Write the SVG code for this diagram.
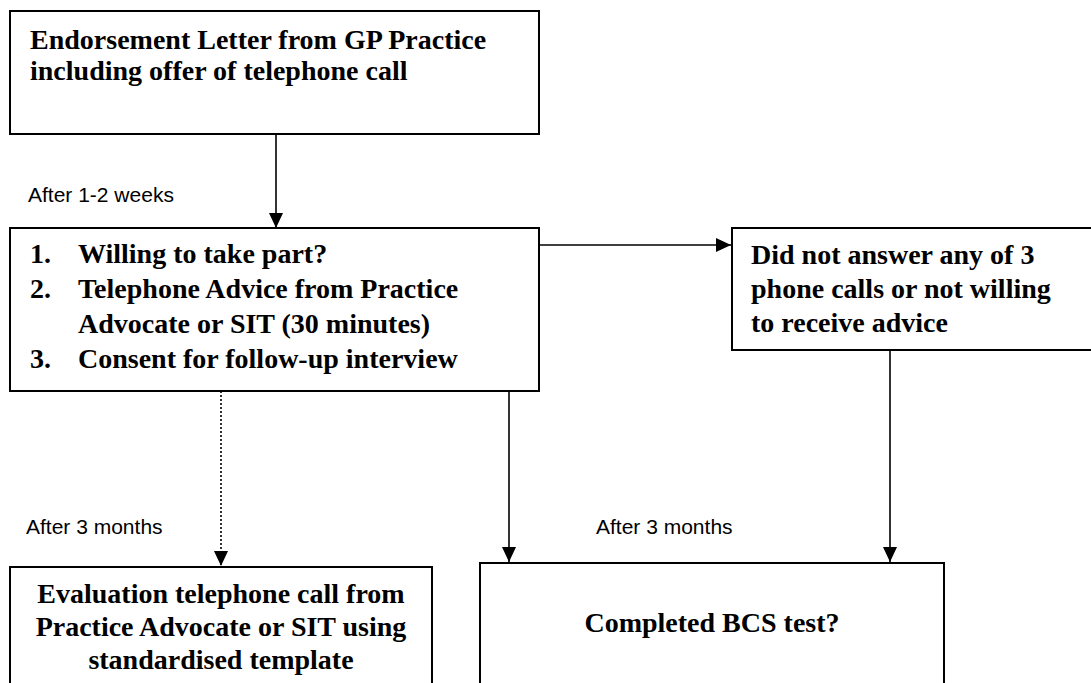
<svg xmlns="http://www.w3.org/2000/svg" width="1091" height="683" viewBox="0 0 1091 683">
<defs>
<style>
.box{fill:#fff;stroke:#000;stroke-width:2}
.t{font-family:"Liberation Serif","Times New Roman",serif;font-weight:bold;font-size:28px;fill:#000}
.lbl{font-family:"Liberation Sans",Arial,sans-serif;font-size:21px;fill:#000}
.c{fill:none;stroke:#000;stroke-width:1.6}
.dot{fill:none;stroke:#000;stroke-width:1.6;stroke-dasharray:2,2}
</style>
<marker id="ah" markerUnits="userSpaceOnUse" markerWidth="15" markerHeight="14" refX="15" refY="7" orient="auto">
<path d="M0,0 L15,7 L0,14 z" fill="#000"/>
</marker>
</defs>
<rect width="1091" height="683" fill="#fff"/>

<g id="connectors">
<line class="c" x1="276" y1="134" x2="276" y2="228" marker-end="url(#ah)"/>
<line class="c" x1="540" y1="245" x2="731" y2="245" marker-end="url(#ah)"/>
<line class="dot" x1="221" y1="391" x2="221" y2="566" marker-end="url(#ah)"/>
<line class="c" x1="509" y1="391" x2="509" y2="562" marker-end="url(#ah)"/>
<line class="c" x1="890" y1="350" x2="890" y2="562" marker-end="url(#ah)"/>
</g>

<g id="label-weeks"><text class="lbl" x="28" y="202">After 1-2 weeks</text></g>
<g id="label-3m-left"><text class="lbl" x="26" y="534">After 3 months</text></g>
<g id="label-3m-right"><text class="lbl" x="596" y="534">After 3 months</text></g>

<g id="node-endorsement">
<rect class="box" x="10" y="11" width="529" height="123"/>
<text class="t" x="30" y="49">Endorsement Letter from GP Practice</text>
<text class="t" x="30" y="80">including offer of telephone call</text>
</g>

<g id="node-telephone">
<rect class="box" x="10" y="228" width="529" height="163"/>
<text class="t" x="30" y="263">1.</text>
<text class="t" x="78" y="263">Willing to take part?</text>
<text class="t" x="30" y="298">2.</text>
<text class="t" x="78" y="298">Telephone Advice from Practice</text>
<text class="t" x="78" y="333">Advocate or SIT (30 minutes)</text>
<text class="t" x="30" y="368">3.</text>
<text class="t" x="78" y="368">Consent for follow-up interview</text>
</g>

<g id="node-noanswer">
<rect class="box" x="732" y="228" width="400" height="122"/>
<text class="t" x="751" y="264">Did not answer any of 3</text>
<text class="t" x="751" y="298">phone calls or not willing</text>
<text class="t" x="751" y="332">to receive advice</text>
</g>

<g id="node-evaluation">
<rect class="box" x="10" y="567" width="422" height="200"/>
<text class="t" x="221" y="603" text-anchor="middle">Evaluation telephone call from</text>
<text class="t" x="221" y="636" text-anchor="middle">Practice Advocate or SIT using</text>
<text class="t" x="221" y="669" text-anchor="middle">standardised template</text>
</g>

<g id="node-bcs">
<rect class="box" x="480" y="563" width="464" height="200"/>
<text class="t" x="712" y="632" text-anchor="middle">Completed BCS test?</text>
</g>
</svg>
